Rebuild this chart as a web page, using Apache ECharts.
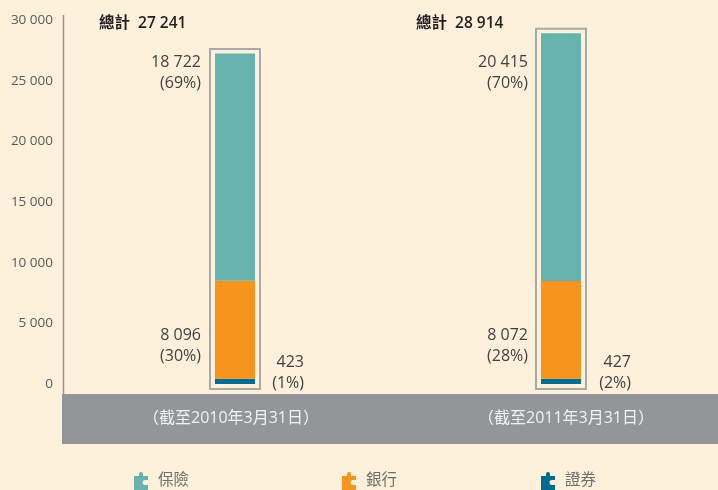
<!DOCTYPE html>
<html>
<head>
<meta charset="utf-8">
<style>html,body{margin:0;padding:0;background:#FEF1DC}#c{width:718px;height:490px}</style>
<script src="https://cdn.jsdelivr.net/npm/echarts@6/dist/echarts.min.js"></script>
</head>
<body>
<div id="c"></div>
<script>
const categories = ['（截至2010年3月31日）', '（截至2011年3月31日）'];
const insurance = [18722, 20415];
const banking = [8096, 8072];
const securities = [423, 427];
const insurancePct = ['69%', '70%'];
const bankingPct = ['30%', '28%'];
const securitiesPct = ['1%', '2%'];
const totals = [27241, 28914];
const totalWord = '總計';
const seriesNames = ['保險', '銀行', '證券'];
const yTicks = { min: 0, max: 30000, interval: 5000 };

const FONT = '"Open Sans","Noto Sans","Noto Sans CJK TC",sans-serif';
const COLORS = { insurance: '#66B3AD', banking: '#F7941D', securities: '#006C8F' };
const fmt = v => String(v).replace(/\B(?=(\d{3})+$)/g, ' ');
const puzzle = 'path://M0 4H5V2A2 2 0 0 1 9 2V4H14V8H11A2.5 2.5 0 0 0 11 13H14V18H0Z';

const insuranceOffset = [[-14, -1.5], [-13, 18.5]];
const bankingOffset = [[-14, 44], [-13, 44]];
const securitiesOffset = [[89, -26.5], [90, -26.5]];
const totalX = [-136, -145];
const catShift = [[0, 8, 0, 0], [0, 0, 0, 10]];

function labelled(values, pcts, offsets, align) {
  return values.map((v, i) => ({
    value: v,
    label: {
      show: true, position: offsets[i], align: align, verticalAlign: 'top',
      fontFamily: FONT, fontSize: 16, lineHeight: 21, color: '#414042',
      formatter: fmt(v) + '\n(' + pcts[i] + ')'
    }
  }));
}

const chart = echarts.init(document.getElementById('c'));
chart.setOption({
  animation: false,
  backgroundColor: '#FEF1DC',
  textStyle: { fontFamily: FONT },
  grid: { left: 72, top: 20, width: 652, height: 364, containLabel: false, outerBoundsMode: 'none' },
  graphic: [
    { type: 'rect', z: 0, shape: { x: 62, y: 394, width: 656, height: 50 }, style: { fill: '#939598' } },
    { type: 'line', z: 0, shape: { x1: 63.5, y1: 15, x2: 63.5, y2: 394 }, style: { stroke: '#939598', lineWidth: 1.5 } }
  ],
  legend: seriesNames.map((n, i) => ({
    data: [n],
    left: [134, 342, 541][i],
    top: 472,
    padding: 0,
    itemWidth: 14, itemHeight: 18,
    icon: puzzle,
    selectedMode: false,
    textStyle: { fontFamily: FONT, fontSize: 15.5, color: '#6D6E71', padding: [2, 0, 0, 5] }
  })),
  xAxis: {
    type: 'category',
    data: categories,
    axisLine: { show: false },
    axisTick: { show: false },
    z: 5,
    axisLabel: {
      margin: 26,
      formatter: (v, i) => '{s' + i + '|' + v + '}',
      rich: {
        s0: { fontFamily: FONT, fontSize: 16, color: '#F1F2F2', padding: catShift[0] },
        s1: { fontFamily: FONT, fontSize: 16, color: '#F1F2F2', padding: catShift[1] }
      }
    }
  },
  yAxis: {
    type: 'value',
    min: yTicks.min, max: yTicks.max, interval: yTicks.interval,
    offset: 9,
    splitLine: { show: false },
    axisLine: { show: false },
    axisTick: { show: false },
    axisLabel: { margin: 10, fontFamily: FONT, fontSize: 13.5, color: '#58595B', padding: [2, 0, 0, 0], formatter: fmt }
  },
  series: [
    {
      type: 'custom',
      name: totalWord,
      coordinateSystem: 'cartesian2d',
      encode: { x: 0, y: 1 },
      data: totals.map((t, i) => [i, t]),
      z: 1,
      renderItem(params, api) {
        const i = api.value(0);
        const top = api.coord([i, api.value(1)]);
        const zero = api.coord([i, 0]);
        const ceil = api.coord([i, yTicks.max]);
        return {
          type: 'group',
          children: [
            { type: 'rect',
              shape: { x: top[0] - 25, y: top[1] - 4.5, width: 50, height: zero[1] - top[1] + 9.5 },
              style: { fill: 'none', stroke: '#A7A9AC', lineWidth: 2 } },
            { type: 'text',
              style: { x: top[0] + totalX[i], y: ceil[1] + 4,
                text: totalWord + '  ' + fmt(api.value(1)),
                fill: '#231F20', fontFamily: FONT, fontSize: 15.5, fontWeight: 600,
                verticalAlign: 'middle', align: 'left' } }
          ]
        };
      }
    },
    { type: 'bar', name: seriesNames[2], stack: 't', barWidth: 40, z: 2,
      itemStyle: { color: COLORS.securities },
      data: labelled(securities, securitiesPct, securitiesOffset, 'right') },
    { type: 'bar', name: seriesNames[1], stack: 't', barWidth: 40, z: 2,
      itemStyle: { color: COLORS.banking },
      data: labelled(banking, bankingPct, bankingOffset, 'right') },
    { type: 'bar', name: seriesNames[0], stack: 't', barWidth: 40, z: 2,
      itemStyle: { color: COLORS.insurance },
      data: labelled(insurance, insurancePct, insuranceOffset, 'right') }
  ]
});
</script>
</body>
</html>
